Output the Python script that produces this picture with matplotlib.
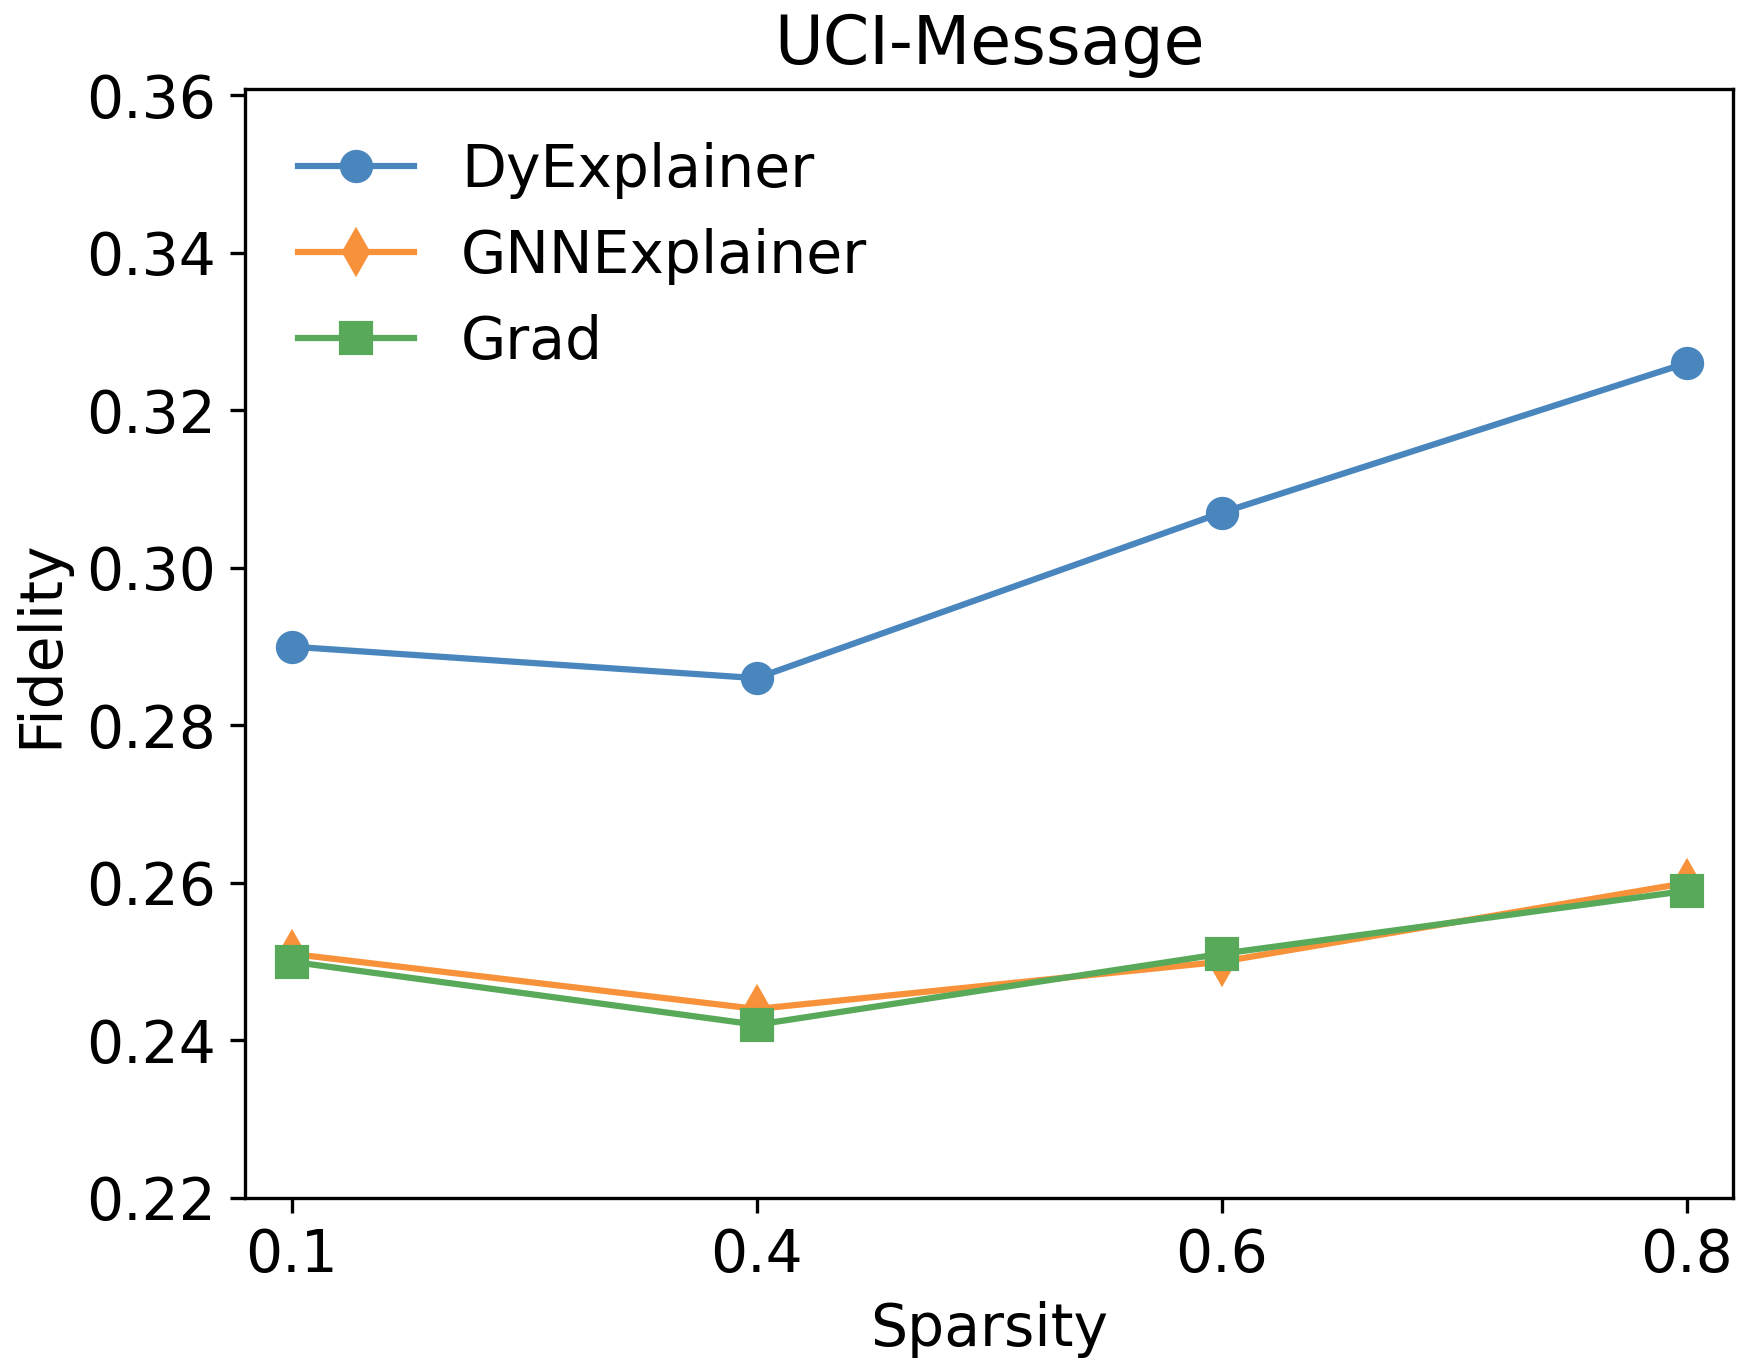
import matplotlib
matplotlib.use("Agg")
import matplotlib.pyplot as plt

sparsity = ["0.1", "0.4", "0.6", "0.8"]
dyexplainer = [0.290, 0.286, 0.307, 0.326]
gnnexplainer = [0.251, 0.244, 0.250, 0.260]
grad = [0.250, 0.242, 0.251, 0.259]

fig = plt.figure(figsize=(1744 / 300, 1369 / 300), dpi=300)
ax = fig.add_axes([245 / 1744, 1 - 1198 / 1369, (1733 - 245) / 1744, (1198 - 89) / 1369])

x = range(len(sparsity))
ax.plot(x, dyexplainer, marker="o", color="#4a86be", lw=1.5, ms=7, label="DyExplainer")
ax.plot(x, gnnexplainer, marker="d", color="#f8923a", lw=1.5, ms=7, label="GNNExplainer")
ax.plot(x, grad, marker="s", color="#59a95a", lw=1.5, ms=7, label="Grad")

ax.set_xticks(list(x))
ax.set_xticklabels(sparsity)
ax.set_xlim(-0.1, 3.1)
ax.set_ylim(0.22, 0.3608)
ax.set_yticks([0.22, 0.24, 0.26, 0.28, 0.30, 0.32, 0.34, 0.36])
ax.tick_params(labelsize=14)
ax.set_xlabel("Sparsity", fontsize=14)
ax.set_ylabel("Fidelity", fontsize=14)
ax.set_title("UCI-Message", fontsize=16)
ax.legend(loc="upper left", frameon=False, fontsize=14)

fig.savefig("out.png", dpi=300)
